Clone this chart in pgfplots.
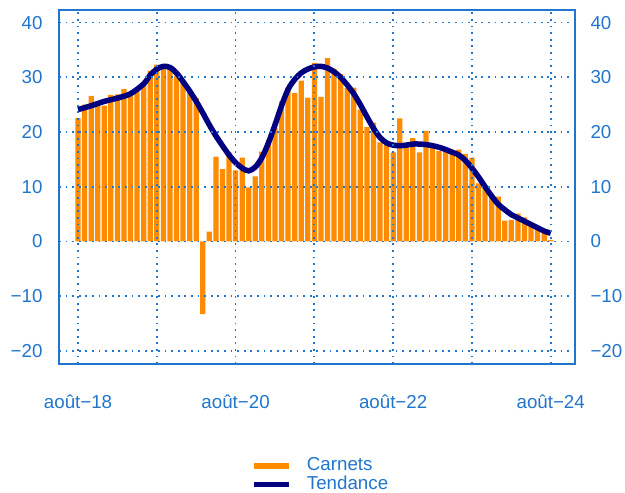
\documentclass[border=0pt]{standalone}
\usepackage{pgfplots}
\pgfplotsset{compat=1.18}
\usepackage{fontspec}
\setmainfont{Liberation Sans}
\definecolor{axisblue}{RGB}{32,117,204}
\definecolor{barorange}{RGB}{255,140,0}
\definecolor{trendnavy}{RGB}{0,0,128}
\newcommand{\lblfont}{\fontsize{18.8}{21}\selectfont}
\begin{document}
\begin{tikzpicture}
\useasboundingbox (-59bp,-129bp) rectangle (566bp,364bp);
\begin{axis}[
  at={(0,0)}, anchor=south west, scale only axis,
  width=516bp, height=354bp,
  xmin=-2.9, xmax=75.7, ymin=-22.4, ymax=42.3,
  axis on top,
  axis line style={axisblue, line width=2bp},
  major tick length=0pt,
  grid=major,
  major grid style={axisblue, line width=1.8bp, dash pattern=on 1.8bp off 4.8bp},
  xtick={0,12,...,72},
  xticklabels={août−18,,août−20,,août−22,,août−24},
  ytick={-20,-10,...,40},
  yticklabels={−20,−10,0,10,20,30,40},
  tick label style={font=\lblfont, text=axisblue},
  xticklabel style={yshift=-27bp},
  yticklabel style={xshift=-13bp},
  legend image code/.code={\draw[#1] (0bp,0bp) -- (35bp,0bp); \path (49bp,0bp);},
  legend style={at={(0.372,-0.261)}, anchor=north west, draw=none, fill=none,
    inner sep=0pt, outer sep=0pt, font=\lblfont, text=axisblue,
    nodes={inner sep=1bp, text height=13.5bp, text depth=3.5bp}},
  legend cell align=left,
]
\addplot[ybar, bar width=0.8, fill=barorange, draw=none, forget plot] table {
x y
0 22.6
1 25.0
2 26.6
3 25.0
4 24.8
5 26.8
6 26.9
7 27.9
8 26.9
9 28.0
10 28.9
11 31.2
12 32.3
13 32.0
14 31.7
15 30.3
16 29.0
17 27.5
18 26.2
19 -13.3
20 1.8
21 15.5
22 13.2
23 16.3
24 13.0
25 15.3
26 9.9
27 11.9
28 16.4
29 18.6
30 20.8
31 25.6
32 28.1
33 27.1
34 29.4
35 26.3
36 32.6
37 26.4
38 33.5
39 31.6
40 30.6
41 28.0
42 28.1
43 24.1
44 20.9
45 21.7
46 18.1
47 17.6
48 16.3
49 22.5
50 17.2
51 18.9
52 16.3
53 20.2
54 17.2
55 16.5
56 16.8
57 16.5
58 16.8
59 16.0
60 15.3
61 10.6
62 9.8
63 8.6
64 8.2
65 3.8
66 3.9
67 5.1
68 4.4
69 3.1
70 2.2
71 1.6
72 0.3
};
\addplot[trendnavy, line width=5.5bp, smooth, forget plot] table {
x y
0 24.1
2 24.8
4 25.6
6 26.2
8 27.0
10 28.8
11 30.4
12 31.5
13 32.0
14 31.8
15 30.8
16 29.2
17 27.5
18 25.6
19 23.5
20 21.3
21 19.3
22 17.5
23 15.8
24 14.4
25 13.4
26 12.9
27 13.6
28 15.3
29 18.0
30 21.3
31 24.8
32 27.8
33 29.6
34 30.8
35 31.5
36 31.9
37 32.0
38 31.7
39 31.0
40 30.0
41 28.6
42 27.0
43 25.0
44 22.8
45 20.7
46 19.0
47 18.0
48 17.6
49 17.5
50 17.6
51 17.8
52 17.8
53 17.7
54 17.5
55 17.2
56 16.8
57 16.3
58 15.8
59 14.8
60 13.4
61 11.8
62 10.0
63 8.3
64 6.8
65 5.8
66 4.9
67 4.3
68 3.7
69 3.1
70 2.5
71 1.9
72 1.5
};
\addlegendimage{barorange, line width=6bp}
\addlegendentry{Carnets}
\addlegendimage{trendnavy, line width=5bp}
\addlegendentry{Tendance}
\end{axis}
\begin{axis}[
  at={(0,0)}, anchor=south west, scale only axis,
  width=516bp, height=354bp,
  xmin=-2.9, xmax=75.7, ymin=-22.4, ymax=42.3,
  axis line style={draw=none},
  major tick length=0pt,
  xtick=\empty,
  ytick={-20,-10,...,40},
  yticklabels={−20,−10,0,10,20,30,40},
  yticklabel pos=right,
  tick label style={font=\lblfont, text=axisblue},
  yticklabel style={xshift=12bp},
]
\end{axis}
\end{tikzpicture}
\end{document}
